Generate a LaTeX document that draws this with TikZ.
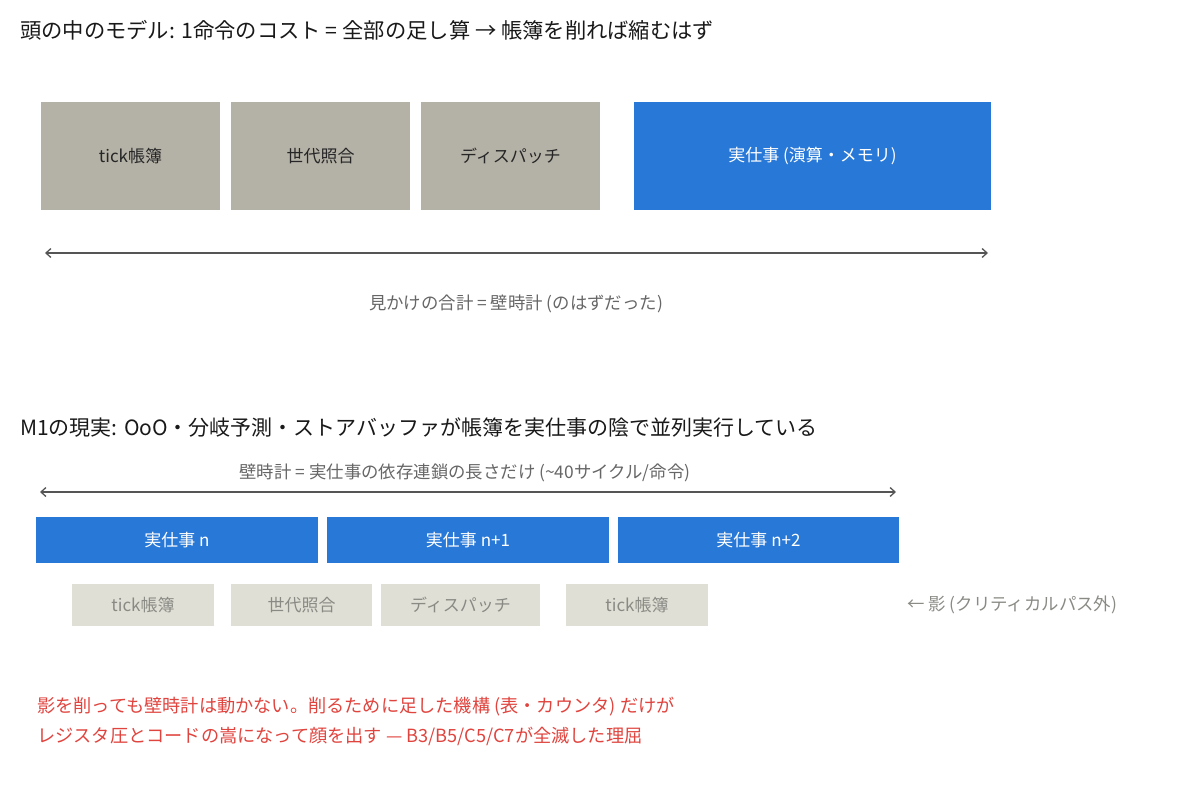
\documentclass[tikz,border=0pt]{standalone}
\usepackage{fontspec}
\setmainfont{Noto Sans CJK JP}
\usetikzlibrary{arrows.meta}
\definecolor{ledger}{HTML}{B4B1A6}
\definecolor{work}{HTML}{2878D7}
\definecolor{shadow}{HTML}{E0DFD6}
\definecolor{shadowtext}{HTML}{8A8A85}
\definecolor{rule}{HTML}{555555}
\definecolor{note}{HTML}{666666}
\definecolor{alert}{HTML}{E0443E}
\tikzset{
  ledgerbox/.style={fill=ledger, text=black!85, inner sep=0, minimum height=108,
    font=\fontsize{17}{20}\selectfont},
  workbox/.style={fill=work, text=white, inner sep=0,
    font=\fontsize{17}{20}\selectfont},
  shadowbox/.style={fill=shadow, text=shadowtext, inner sep=0, minimum height=42,
    font=\fontsize{17}{20}\selectfont},
  wallarrow/.style={draw=rule, line width=1.3, {Straight Barb[length=5,width=9]}-{Straight Barb[length=5,width=9]}},
  headline/.style={anchor=west, inner sep=0, text=black!90, font=\fontsize{21.3}{25}\selectfont},
  notelabel/.style={inner sep=0, text=note, font=\fontsize{17.4}{20}\selectfont}
}
\begin{document}
\begin{tikzpicture}[x=1pt,y=1pt,yscale=-1]
\useasboundingbox (0,0) rectangle (1200,800);

%Model in the head
\node[headline] (head) at (20,30) {頭の中のモデル: 1命令のコスト = 全部の足し算 → 帳簿を削れば縮むはず};

\node[ledgerbox, minimum width=179] (tick) at (130.5,156) {tick帳簿};
\node[ledgerbox, minimum width=179] (gen) at (320.5,156) {世代照合};
\node[ledgerbox, minimum width=179] (disp) at (510.5,156) {ディスパッチ};
\node[workbox, minimum width=357, minimum height=108] (real) at (812.5,156) {実仕事 (演算・メモリ)};

%Apparent total
\coordinate (sumL) at (45,253);
\coordinate (sumR) at (988,253);
\draw[wallarrow] (sumL) -- (sumR);
\node[notelabel] (sum) at (516,304) {見かけの合計 = 壁時計 (のはずだった)};

%M1 reality
\node[headline, font=\fontsize{21}{25}\selectfont] (m1) at (20,428) {M1の現実: OoO・分岐予測・ストアバッファが帳簿を実仕事の陰で並列実行している};

\node[notelabel] (wall) at (465,473) {壁時計 = 実仕事の依存連鎖の長さだけ (\textasciitilde40サイクル/命令)};
\coordinate (wallL) at (40,492);
\coordinate (wallR) at (896,492);
\draw[wallarrow] (wallL) -- (wallR);

\node[workbox, minimum width=282, minimum height=46] (workn) at (177,540) {実仕事 n};
\node[workbox, minimum width=282, minimum height=46] (workn1) at (468,540) {実仕事 n+1};
\node[workbox, minimum width=281, minimum height=46] (workn2) at (758.5,540) {実仕事 n+2};

%Shadow work
\node[shadowbox, minimum width=142] (stick) at (143,605) {tick帳簿};
\node[shadowbox, minimum width=141] (sgen) at (301.5,605) {世代照合};
\node[shadowbox, minimum width=159] (sdisp) at (460.5,605) {ディスパッチ};
\node[shadowbox, minimum width=142] (stick2) at (637,605) {tick帳簿};
\node[notelabel, anchor=west, text=shadowtext] (shade) at (907,605) {← 影 (クリティカルパス外)};

%Conclusion
\node[anchor=north west, inner sep=0, align=left, text=alert,
  font=\fontsize{18.2}{30}\selectfont] (moral) at (37,697)
  {影を削っても壁時計は動かない。削るために足した機構 (表・カウンタ) だけが\\
   レジスタ圧とコードの嵩になって顔を出す — B3/B5/C5/C7が全滅した理屈};

\end{tikzpicture}
\end{document}
